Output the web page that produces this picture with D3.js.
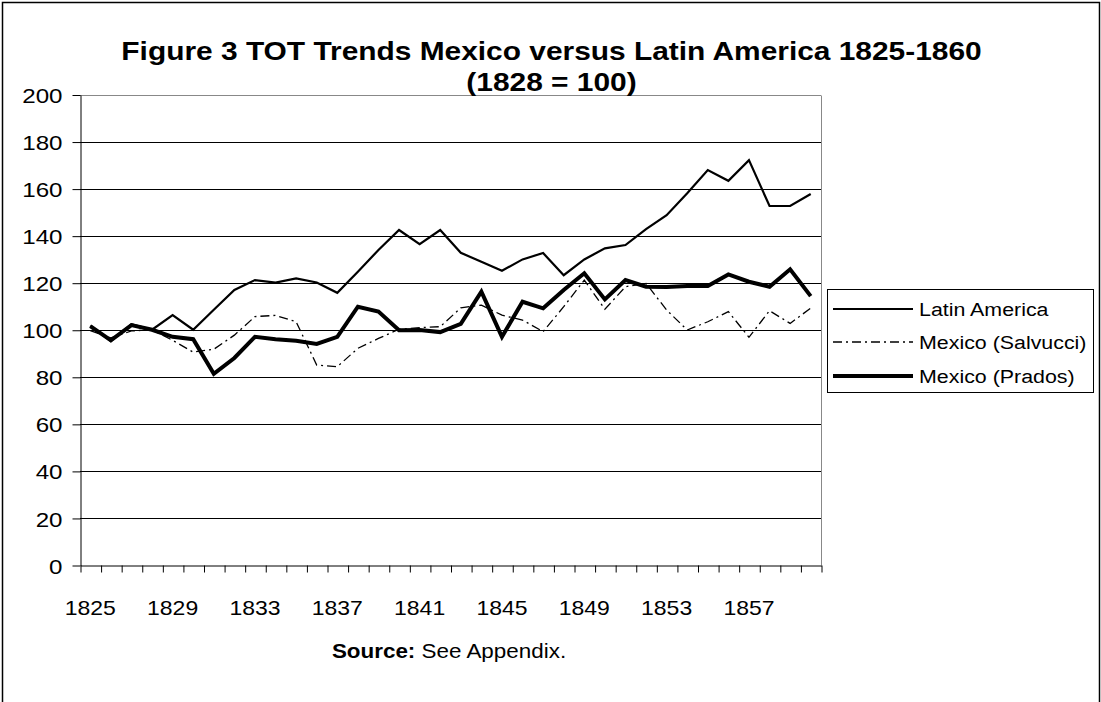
<!DOCTYPE html>
<html>
<head>
<meta charset="utf-8">
<script src="https://cdn.jsdelivr.net/npm/d3@7"></script>
<style>
  html, body { margin: 0; padding: 0; background: #fff; }
  svg { display: block; font-family: "Liberation Sans", Arial, sans-serif; }
</style>
</head>
<body>
<svg id="chart" width="1101" height="702"></svg>
<script>
const years = d3.range(1825, 1861);
const labelYears = [1825, 1829, 1833, 1837, 1841, 1845, 1849, 1853, 1857];
const yTicks = [0, 20, 40, 60, 80, 100, 120, 140, 160, 180, 200];

const latinAmerica = [101.7, 95.2, 102.4, 100, 106.2, 100, 108.5, 116.9, 121.1, 120, 121.8, 120.1, 115.7, 124.7, 133.9, 142.4, 136.4, 142.4, 132.7, 128.9, 125.1, 129.9, 132.6, 123.2, 129.9, 134.6, 136, 142.8, 148.7, 158, 167.9, 163.3, 172.1, 152.6, 152.6, 157.7];
const mexicoSalvucci = [99.6, 96.5, 99.5, 100, 95.5, 90.5, 91.7, 97.7, 105.6, 106.1, 103.4, 85, 84.3, 92.1, 96.3, 100.2, 100.9, 101.3, 109.3, 110.5, 106.2, 104.1, 99.2, 109.8, 121.1, 108.7, 118.3, 119.7, 108.4, 99.9, 103.4, 107.7, 96.8, 108.1, 102.7, 109.2];
const mexicoPrados = [101.5, 95.5, 102, 100, 97, 96, 81.3, 88, 97, 96, 95.3, 94, 97, 109.8, 107.7, 99.8, 99.9, 99, 102.5, 116.2, 97, 111.9, 109.1, 116.9, 124, 112.9, 121.1, 118.3, 118.2, 118.6, 118.6, 123.5, 120.4, 118.3, 125.7, 114.3];

const seriesNames = ["Latin America", "Mexico (Salvucci)", "Mexico (Prados)"];
const seriesValues = [latinAmerica, mexicoSalvucci, mexicoPrados];
const seriesStyles = [
  { width: 2.2, dash: null },
  { width: 1.3, dash: "9,4,2,4" },
  { width: 4, dash: null }
];

const SX = 1.15; // horizontal stretch of the original text rendering
const svg = d3.select("#chart");
const plot = { left: 80, right: 821, top: 94.5, bottom: 565 };

// outer frame
svg.append("rect").attr("x", 2.5).attr("y", 2.5).attr("width", 1097).attr("height", 720)
  .attr("fill", "#fff").attr("stroke", "#000").attr("stroke-width", 1.5);

const x = d3.scaleBand().domain(years).range([plot.left, plot.right]).paddingInner(0).paddingOuter(0);
const xEdge = d3.scaleLinear().domain([0, years.length]).range([plot.left, plot.right]);
const y = d3.scaleLinear().domain([0, 200]).range([plot.bottom, plot.top]);

// gridlines
svg.append("g").selectAll("line").data(yTicks.filter(d => d > 0)).join("line")
  .attr("x1", plot.left).attr("x2", plot.right)
  .attr("y1", d => Math.round(y(d)) + 0.5).attr("y2", d => Math.round(y(d)) + 0.5)
  .attr("stroke", d => d === 200 ? "#888" : "#000").attr("stroke-width", 1);
// right border of plot
svg.append("line").attr("x1", plot.right + 0.5).attr("x2", plot.right + 0.5)
  .attr("y1", Math.round(y(200)) + 0.5).attr("y2", plot.bottom).attr("stroke", "#888");

// y axis
const yAxis = svg.append("g").attr("transform", `translate(${plot.left + 0.5},0.5)`)
  .call(d3.axisLeft(y).tickValues(yTicks).tickSize(8).tickSizeOuter(0));
yAxis.select(".domain").attr("stroke", "#000");
yAxis.selectAll(".tick line").attr("stroke", "#000");
yAxis.selectAll(".tick text").attr("font-size", 21).attr("fill", "#000")
  .attr("x", -18 / SX).attr("dy", "0.36em").attr("transform", `scale(${SX},1)`)
  .style("font-family", "'Liberation Sans', Arial, sans-serif");

// x axis boundary ticks
const xTickAxis = svg.append("g").attr("transform", `translate(0.5,${plot.bottom + 0.5})`)
  .call(d3.axisBottom(xEdge).tickValues(d3.range(years.length + 1)).tickFormat("").tickSize(7).tickSizeOuter(0));
xTickAxis.select(".domain").attr("stroke", "#000");
xTickAxis.selectAll(".tick line").attr("stroke", "#000");

// x labels
const xAxis = svg.append("g").attr("transform", `translate(0,${plot.bottom})`)
  .call(d3.axisBottom(x).tickValues(labelYears).tickSize(0));
xAxis.select(".domain").remove();
xAxis.selectAll(".tick text").attr("font-size", 20).attr("fill", "#000")
  .attr("y", 50).attr("dy", null).attr("transform", `scale(${SX},1)`)
  .style("font-family", "'Liberation Sans', Arial, sans-serif");

// lines
const line = d3.line().x((d, i) => x(years[i]) + x.bandwidth() / 2).y(d => y(d));
seriesValues.forEach((vals, k) => {
  svg.append("path").datum(vals)
    .attr("d", line)
    .attr("fill", "none")
    .attr("stroke", "#000")
    .attr("stroke-width", seriesStyles[k].width)
    .attr("stroke-linejoin", "miter")
    .attr("stroke-dasharray", seriesStyles[k].dash);
});

// stretched text helper
function label(gx, gy, size, weight, anchor, parts) {
  const g = svg.append("g").attr("transform", `translate(${gx},${gy}) scale(${SX},1)`);
  const t = g.append("text").attr("font-size", size).attr("text-anchor", anchor).attr("fill", "#000");
  parts.forEach(p => t.append("tspan").attr("font-weight", p[1] || weight).text(p[0]));
  return t;
}

// title
label(551.5, 60, 26, "bold", "middle", [["Figure 3 TOT Trends Mexico versus Latin America 1825-1860"]]);
label(551.5, 91, 26, "bold", "middle", [["(1828 = 100)"]]);

// source
label(449, 658, 19.5, "normal", "middle", [["Source:", "bold"], [" See Appendix.", "normal"]]);

// legend
svg.append("rect").attr("x", 827.5).attr("y", 289.5).attr("width", 266).attr("height", 103)
  .attr("fill", "#fff").attr("stroke", "#000").attr("stroke-width", 1);
const legendY = [309, 342, 376];
seriesNames.forEach((name, k) => {
  svg.append("line").attr("x1", 833).attr("x2", 913)
    .attr("y1", legendY[k]).attr("y2", legendY[k])
    .attr("stroke", "#000").attr("stroke-width", seriesStyles[k].width)
    .attr("stroke-dasharray", seriesStyles[k].dash);
  label(919, legendY[k] + 6.6, 18.6, "normal", "start", [[name]]);
});
</script>
</body>
</html>
